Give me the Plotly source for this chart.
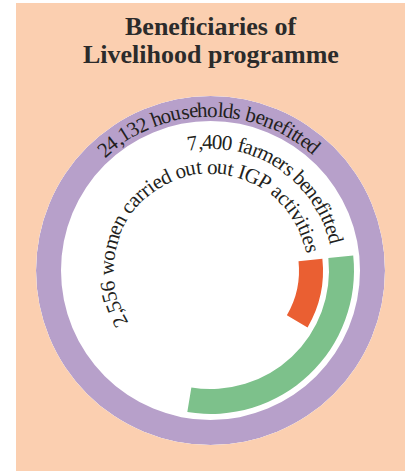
import math
import plotly.graph_objects as go

W, H = 412, 471

# ---------------- data ----------------
title_lines = ["Beneficiaries of", "Livelihood programme"]
categories = ["households", "farmers", "women"]
values = [24132, 7400, 2556]
labels = ["24,132 households benefitted",
          "7,400 farmers benefitted",
          "2,556 women carried out out IGP activities"]
colors = ["#B7A0CA", "#7DC18B", "#EA5F32"]

# ---------------- style / geometry ----------------
CX, CY = 210.5, 270.5          # centre of the rings (px)
R_OUT = 174.5                  # outer radius of polar area (px)
ring_base = [149.5, 118.5, 88.5]
ring_thick = [25.0, 25.0, 24.0]
ARC_START = 84.0               # degrees clockwise from 12 o'clock
FULL_SCALE = 25300.0           # value corresponding to a full turn for inner arcs

label_center = [-0.7, 33.75, -21.0]
label_span = [85.0, 88.0, 202.0]
label_radius = [161.0, 129.0, 104.0]
FS = 21
TEXT_COLOR = "#231F20"
PEACH = "#FBCFB0"

# Times/Liberation Serif advance widths (per 1000 em)
CW = {' ': 250, ',': 250, 'a': 444, 'b': 500, 'c': 444, 'd': 500, 'e': 444,
      'f': 333, 'g': 500, 'h': 500, 'i': 278, 'l': 278, 'm': 778, 'n': 500,
      'o': 500, 'p': 500, 'r': 333, 's': 389, 't': 278, 'u': 500, 'v': 500,
      'w': 722, 'I': 333, 'G': 722, 'P': 556}

# ---------------- rings ----------------
spans = [360.0] + [v / FULL_SCALE * 360.0 for v in values[1:]]
thetas = [180.0] + [ARC_START + s / 2 for s in spans[1:]]

fig = go.Figure()
fig.add_trace(go.Barpolar(
    r=ring_thick, base=ring_base, theta=thetas, width=spans,
    marker=dict(color=colors, line=dict(width=0)),
    text=categories, hoverinfo="text", showlegend=False,
))

# ---------------- curved labels ----------------
annotations = []


def to_paper(px, py):
    return px / W, 1 - py / H


for text, cdeg, sdeg, rad in zip(labels, label_center, label_span, label_radius):
    widths = [CW.get(ch, 500) for ch in text]
    total = sum(widths)
    start = cdeg - sdeg / 2
    cum = 0.0
    for ch, w in zip(text, widths):
        mid = cum + w / 2
        cum += w
        if ch == ' ':
            continue
        ang = start + sdeg * mid / total
        a = math.radians(ang)
        px = CX + rad * math.sin(a)
        py = CY - rad * math.cos(a)
        x, y = to_paper(px, py)
        ta = ((ang + 180) % 360) - 180
        annotations.append(dict(
            x=x, y=y, xref="paper", yref="paper", text=ch, showarrow=False,
            textangle=ta, xanchor="center", yanchor="middle",
            font=dict(family="Liberation Serif", size=FS, color=TEXT_COLOR),
        ))

# title
for line, py in zip(title_lines, [26.5, 54.5]):
    x, y = to_paper(210.5, py)
    annotations.append(dict(
        x=x, y=y, xref="paper", yref="paper", text="<b>%s</b>" % line,
        showarrow=False, xanchor="center", yanchor="middle",
        font=dict(family="Liberation Serif", size=26, color="#2B2B2B"),
    ))

fig.update_layout(
    width=W, height=H,
    margin=dict(l=0, r=0, t=0, b=0),
    paper_bgcolor="white",
    shapes=[dict(type="rect", xref="paper", yref="paper",
                 x0=16 / W, x1=405 / W, y0=0, y1=1 - 3 / H,
                 fillcolor=PEACH, line=dict(width=0), layer="below")],
    polar=dict(
        domain=dict(x=[(CX - R_OUT) / W, (CX + R_OUT) / W],
                    y=[1 - (CY + R_OUT) / H, 1 - (CY - R_OUT) / H]),
        bgcolor="white",
        bargap=0, hole=0,
        radialaxis=dict(visible=False, range=[0, R_OUT]),
        angularaxis=dict(visible=False, rotation=90, direction="clockwise"),
    ),
    annotations=annotations,
)

fig.write_html("out.html",
               config={"displayModeBar": False},
               post_script="document.body.style.margin='0';"
                           "document.body.style.overflow='hidden';")
